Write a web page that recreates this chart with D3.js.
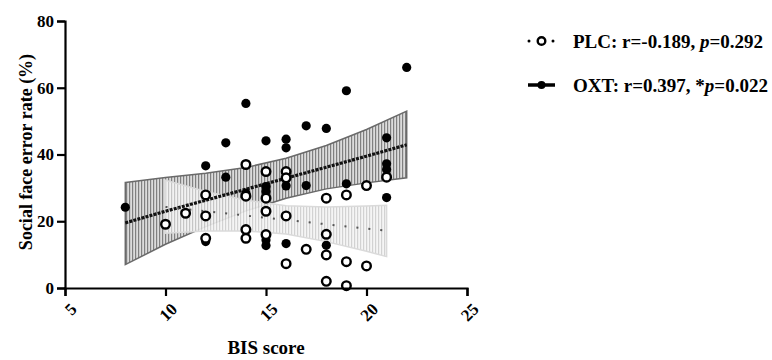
<!DOCTYPE html>
<html>
<head>
<meta charset="utf-8">
<script src="https://cdn.jsdelivr.net/npm/d3@7"></script>
<style>
  body { margin: 0; background: #fff; }
  text { font-family: "Liberation Serif", "Times New Roman", serif; font-weight: bold; }
</style>
</head>
<body>
<div id="chart"></div>
<script>
const width = 772, height = 360;

// BIS score / error rate (%) for each subject
const oxtX = [8, 12, 12, 13, 13, 14, 14, 15, 15, 15, 15, 15, 16, 16, 16, 16, 16, 17, 17, 18, 18, 19, 19, 21, 21, 21, 21, 22];
const oxtY = [24.2, 36.6, 13.9, 43.5, 33.2, 55.3, 28.4, 44.1, 30.4, 28.9, 14.4, 12.7, 44.6, 42, 32.8, 30.6, 13.3, 48.6, 30.7, 47.8, 12.8, 59.1, 31.2, 45, 37.2, 35.5, 27.1, 66.1];
const plcX = [10, 11, 12, 12, 12, 14, 14, 14, 14, 15, 15, 15, 15, 16, 16, 16, 16, 17, 18, 18, 18, 18, 19, 19, 19, 20, 20, 21];
const plcY = [19.1, 22.4, 27.9, 21.6, 14.9, 37, 27.5, 17.5, 14.9, 34.9, 26.9, 23, 16, 34.9, 33, 21.6, 7.3, 11.6, 26.9, 16.1, 9.9, 2, 27.9, 7.9, 0.7, 30.7, 6.6, 33.2];

// regression line and 95% band
const oxtFitX = [8, 10, 12, 14, 16, 18, 20, 22];
const oxtFit = [19.5, 23.0, 26.3, 29.6, 32.9, 36.2, 39.5, 42.9];
const oxtHi = [31.6, 33.1, 34.4, 36.1, 38.9, 42.7, 47.5, 53];
const oxtLo = [7.0, 13.1, 18.4, 23.1, 26.9, 29.7, 31.5, 33];
const plcFitX = [10, 12, 14, 16, 18, 20, 21];
const plcFit = [24.3, 23.0, 21.7, 20.4, 19.1, 17.8, 17.2];
const plcHi = [32.3, 28.9, 26.3, 24.65, 24.3, 24.6, 24.8];
const plcLo = [16.4, 17.1, 17.1, 16.15, 13.9, 11.0, 9.4];

const xTicks = [5, 10, 15, 20, 25];
const yTicks = [0, 20, 40, 60, 80];
const legendLabels = ["PLC: r=-0.189, ", "OXT: r=0.397, *"];
const legendP = ["0.292", "0.022"];

const x = d3.scaleLinear().domain([5, 25]).range([65, 467]);
const y = d3.scaleLinear().domain([0, 80]).range([288, 21]);

const svg = d3.select("#chart").append("svg")
  .attr("width", width).attr("height", height);

const defs = svg.append("defs");
function hatch(id, bg, fg) {
  const p = defs.append("pattern").attr("id", id)
    .attr("patternUnits", "userSpaceOnUse").attr("width", 3).attr("height", 10);
  p.append("rect").attr("width", 3).attr("height", 10).attr("fill", bg);
  p.append("rect").attr("x", 0).attr("width", 1.2).attr("height", 10).attr("fill", fg);
}
hatch("hatchDark", "#dcdcdc", "#808080");
hatch("hatchLight", "#f4f4f4", "#cdcdcd");

const area = d3.area().x(d => x(d[0])).y0(d => y(d[1])).y1(d => y(d[2]));
const line = d3.line().x(d => x(d[0])).y(d => y(d[1]));

// OXT band
svg.append("path")
  .attr("d", area(oxtFitX.map((v, i) => [v, oxtLo[i], oxtHi[i]])))
  .attr("fill", "url(#hatchDark)").attr("stroke", "#6a6a6a").attr("stroke-width", 1.5);

// PLC band
svg.append("path")
  .attr("d", area(plcFitX.map((v, i) => [v, plcLo[i], plcHi[i]])))
  .attr("fill", "url(#hatchLight)").attr("fill-opacity", 0.9)
  .attr("stroke", "#dadada").attr("stroke-width", 1.5);

// fit lines
svg.append("path")
  .attr("d", line(oxtFitX.map((v, i) => [v, oxtFit[i]])))
  .attr("fill", "none").attr("stroke", "#111").attr("stroke-width", 3.2)
  .attr("stroke-dasharray", "3,1.2");
svg.append("path")
  .attr("d", line(plcFitX.map((v, i) => [v, plcFit[i]])))
  .attr("fill", "none").attr("stroke", "#555").attr("stroke-width", 2)
  .attr("stroke-dasharray", "2,10");

// points
svg.append("g").selectAll("circle")
  .data(oxtX.map((v, i) => [v, oxtY[i]]))
  .join("circle")
  .attr("cx", d => x(d[0])).attr("cy", d => y(d[1])).attr("r", 4.6)
  .attr("fill", "#000");
svg.append("g").selectAll("circle")
  .data(plcX.map((v, i) => [v, plcY[i]]))
  .join("circle")
  .attr("cx", d => x(d[0])).attr("cy", d => y(d[1])).attr("r", 4.3)
  .attr("fill", "#fff").attr("stroke", "#000").attr("stroke-width", 2.4);

// axes
const yAxis = svg.append("g").attr("transform", "translate(65,0)")
  .call(d3.axisLeft(y).tickValues(yTicks).tickSize(8).tickPadding(3));
const xAxis = svg.append("g").attr("transform", "translate(0,288)")
  .call(d3.axisBottom(x).tickValues(xTicks).tickSize(8));
[yAxis, xAxis].forEach(a => {
  a.select(".domain").attr("stroke", "#000").attr("stroke-width", 2.2);
  a.selectAll(".tick line").attr("stroke", "#000").attr("stroke-width", 2.2);
  a.selectAll("text").attr("fill", "#000").style("font-size", "17px")
    .style("font-family", "'Liberation Serif', serif").style("font-weight", "bold");
});
xAxis.selectAll("text")
  .attr("text-anchor", "end")
  .attr("transform", "translate(8,18) rotate(-45)")
  .attr("dy", "0.35em").attr("y", 0);

svg.append("text")
  .attr("transform", `translate(26,152) rotate(-90)`)
  .attr("text-anchor", "middle").attr("dy", "0.35em")
  .style("font-size", "18px").text("Social face error rate (%)");
svg.append("text")
  .attr("x", 266).attr("y", 354).attr("text-anchor", "middle")
  .style("font-size", "19px").text("BIS score");

// legend
const lg = svg.append("g");
const rows = [41, 85];
// PLC symbol
lg.append("circle").attr("cx", 529).attr("cy", rows[0]).attr("r", 1.5).attr("fill", "#000");
lg.append("circle").attr("cx", 553).attr("cy", rows[0]).attr("r", 1.5).attr("fill", "#000");
lg.append("circle").attr("cx", 541.5).attr("cy", rows[0]).attr("r", 3.8)
  .attr("fill", "#fff").attr("stroke", "#000").attr("stroke-width", 2.4);
// OXT symbol
lg.append("line").attr("x1", 528).attr("x2", 555).attr("y1", rows[1]).attr("y2", rows[1])
  .attr("stroke", "#000").attr("stroke-width", 3.5);
lg.append("circle").attr("cx", 541.5).attr("cy", rows[1]).attr("r", 4).attr("fill", "#000");

legendLabels.forEach((lab, i) => {
  const t = lg.append("text").attr("x", 573).attr("y", rows[i]).attr("dy", "0.35em")
    .style("font-size", "19px");
  t.append("tspan").text(lab);
  t.append("tspan").style("font-style", "italic").text("p");
  t.append("tspan").text("=" + legendP[i]);
});
</script>
</body>
</html>
